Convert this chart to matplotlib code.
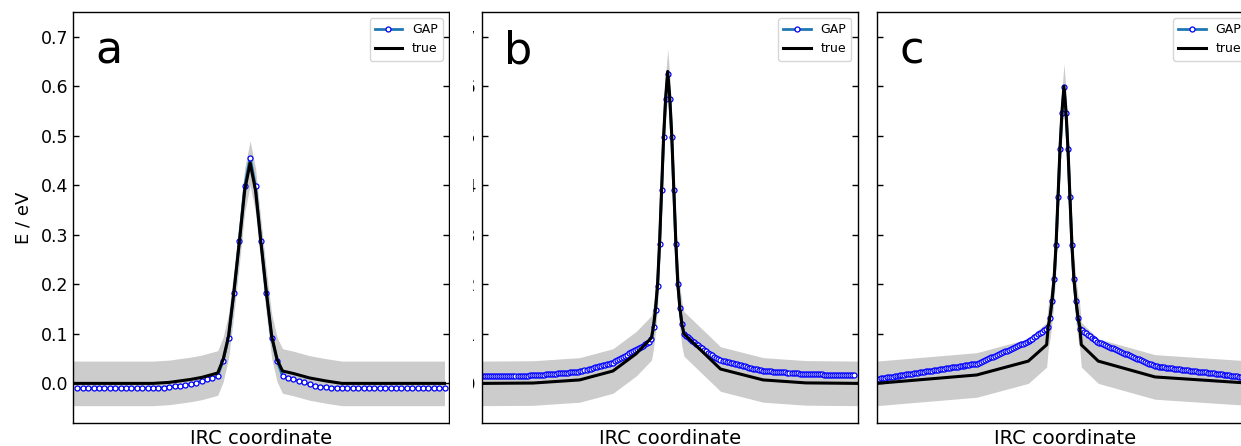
"""
Three-panel IRC energy profile: GAP prediction vs. reference ("true"),
with the shaded band showing the GAP error envelope around the reference.
"""

import numpy as np
import matplotlib
matplotlib.use("Agg")
import matplotlib.pyplot as plt
import matplotlib as mpl
from matplotlib.patches import Rectangle

# ---------------------------------------------------------------------------
# Style
# ---------------------------------------------------------------------------
mpl.rcParams.update({
    "font.family": "DejaVu Sans",
    "axes.linewidth": 1.0,
    "legend.fontsize": 9,
})

# ---------------------------------------------------------------------------
# Data (energies in eV, x = image index along the IRC)
# ---------------------------------------------------------------------------
BAND_HALF = 0.045   # half-width of grey envelope around the reference curve

GAP_A = [
    -0.010, -0.010, -0.010, -0.010, -0.010, -0.010, -0.010, -0.010, -0.010, -0.010,
    -0.010, -0.010, -0.010, -0.010, -0.0098, -0.0093, -0.0085, -0.0072, -0.0060, -0.0050,
    -0.0038, -0.0020, 0.0010, 0.0050, 0.0090, 0.0110, 0.0150, 0.046, 0.092, 0.183,
    0.287, 0.398, 0.456, 0.398, 0.287, 0.183, 0.092, 0.046, 0.0150, 0.0110,
    0.0090, 0.0050, 0.0020, -0.0020, -0.0050, -0.0065, -0.0075, -0.0085, -0.0090, -0.0095,
    -0.010, -0.010, -0.010, -0.010, -0.010, -0.010, -0.010, -0.010, -0.010, -0.010,
    -0.010, -0.010, -0.010, -0.010, -0.010, -0.010, -0.010, -0.010, -0.010,
]
TRUE_A_X = [-0.8, 14, 17, 19, 21, 23, 25, 26, 27, 28, 29, 30, 31, 32,
            33, 34, 35, 36, 37, 38, 40, 43, 46, 49, 68.0]
TRUE_A_Y = [0.0, 0.0, 0.002, 0.005, 0.008, 0.012, 0.018, 0.021, 0.048, 0.095,
            0.185, 0.285, 0.39, 0.445, 0.39, 0.285, 0.185, 0.095, 0.048, 0.025,
            0.02, 0.011, 0.005, 0.0, 0.0]

GAP_B = [
    0.0150, 0.0150, 0.0150, 0.0150, 0.0150, 0.0151, 0.0151, 0.0151, 0.0152, 0.0152,
    0.0152, 0.0153, 0.0153, 0.0154, 0.0154, 0.0155, 0.0155, 0.0156, 0.0156, 0.0157,
    0.0158, 0.0158, 0.0159, 0.0160, 0.0161, 0.0163, 0.0166, 0.0169, 0.0172, 0.0175,
    0.0178, 0.0181, 0.0184, 0.0187, 0.0191, 0.0194, 0.0197, 0.0200, 0.0204, 0.0207,
    0.0211, 0.0214, 0.0218, 0.0221, 0.0225, 0.0228, 0.0232, 0.0235, 0.0245, 0.0256,
    0.0267, 0.0278, 0.0289, 0.0300, 0.0311, 0.0322, 0.0333, 0.0344, 0.0355, 0.0366,
    0.0377, 0.0388, 0.0399, 0.0410, 0.0420, 0.0443, 0.0466, 0.0489, 0.0512, 0.0535,
    0.0558, 0.0581, 0.0604, 0.0627, 0.0650, 0.0673, 0.0696, 0.0719, 0.0742, 0.0765,
    0.0790, 0.0815, 0.0845, 0.0895, 0.113, 0.148, 0.197, 0.282, 0.390, 0.497,
    0.575, 0.625, 0.575, 0.497, 0.390, 0.282, 0.200, 0.152, 0.120, 0.099,
    0.096, 0.093, 0.089, 0.086, 0.083, 0.080, 0.077, 0.074, 0.071, 0.068,
    0.065, 0.062, 0.059, 0.057, 0.054, 0.052, 0.049, 0.047, 0.0460, 0.0450,
    0.0440, 0.0430, 0.0419, 0.0408, 0.0397, 0.0386, 0.0375, 0.0364, 0.0353, 0.0342,
    0.0331, 0.0320, 0.0310, 0.0300, 0.0290, 0.0281, 0.0272, 0.0264, 0.0257, 0.0253,
    0.0249, 0.0245, 0.0241, 0.0238, 0.0235, 0.0232, 0.0229, 0.0226, 0.0223, 0.0220,
    0.0217, 0.0214, 0.0211, 0.0208, 0.0205, 0.0202, 0.0199, 0.0196, 0.0193, 0.0190,
    0.0189, 0.0188, 0.0186, 0.0185, 0.0184, 0.0183, 0.0181, 0.0180, 0.0179, 0.0178,
    0.0177, 0.0176, 0.0175, 0.0174, 0.0173, 0.0172, 0.0171, 0.0170, 0.0169, 0.0168,
    0.0167, 0.0166, 0.0165, 0.0164,
]
TRUE_B_X = [-0.64, 24.6, 47.6, 64, 75.5, 83, 84, 85, 86, 87, 88, 89, 90, 91,
            92, 93, 94, 95, 96, 97, 98, 99, 117, 138, 159, 184.6]
TRUE_B_Y = [0.0, 0.0007, 0.007, 0.025, 0.06, 0.092, 0.115, 0.15, 0.2, 0.285,
            0.393, 0.5, 0.578, 0.63, 0.578, 0.5, 0.393, 0.285, 0.2, 0.152,
            0.12, 0.10, 0.029, 0.007, 0.001, 0.0]

GAP_C = [
    0.0095, 0.0101, 0.0107, 0.0113, 0.0119, 0.0126, 0.0132, 0.0138, 0.0144, 0.0150,
    0.0156, 0.0162, 0.0168, 0.0174, 0.0180, 0.0187, 0.0193, 0.0199, 0.0205, 0.0211,
    0.0217, 0.0223, 0.0229, 0.0235, 0.0241, 0.0248, 0.0254, 0.0260, 0.0266, 0.0272,
    0.0278, 0.0284, 0.0290, 0.0296, 0.0302, 0.0309, 0.0315, 0.0321, 0.0327, 0.0333,
    0.0339, 0.0345, 0.0351, 0.0357, 0.0363, 0.0370, 0.0376, 0.0382, 0.0388, 0.0394,
    0.0400, 0.0418, 0.0435, 0.0453, 0.0470, 0.0488, 0.0506, 0.0523, 0.0541, 0.0558,
    0.0576, 0.0594, 0.0611, 0.0629, 0.0646, 0.0664, 0.0682, 0.0699, 0.0717, 0.0734,
    0.0752, 0.0770, 0.0787, 0.0805, 0.0822, 0.0835, 0.0850, 0.0870, 0.0900, 0.0930,
    0.0960, 0.0990, 0.1020, 0.1040, 0.1070, 0.1100, 0.113, 0.133, 0.167, 0.210,
    0.279, 0.376, 0.473, 0.547, 0.598, 0.547, 0.473, 0.376, 0.279, 0.210,
    0.167, 0.133, 0.110, 0.1070, 0.1040, 0.1010, 0.0980, 0.0950, 0.0920, 0.0895,
    0.0868, 0.0840, 0.0823, 0.0806, 0.0789, 0.0772, 0.0755, 0.0738, 0.0721, 0.0705,
    0.0688, 0.0671, 0.0654, 0.0637, 0.0620, 0.0603, 0.0586, 0.0569, 0.0552, 0.0535,
    0.0519, 0.0502, 0.0485, 0.0468, 0.0451, 0.0434, 0.0417, 0.0400, 0.0384, 0.0367,
    0.0350, 0.0345, 0.0340, 0.0335, 0.0330, 0.0325, 0.0320, 0.0315, 0.0310, 0.0305,
    0.0300, 0.0295, 0.0290, 0.0285, 0.0280, 0.0275, 0.0270, 0.0265, 0.0260, 0.0255,
    0.0250, 0.0245, 0.0240, 0.0235, 0.0230, 0.0225, 0.0220, 0.0215, 0.0210, 0.0205,
    0.0200, 0.0195, 0.0190, 0.0185, 0.0180, 0.0175, 0.0170, 0.0165, 0.0160, 0.0155,
    0.0150, 0.0145, 0.0140, 0.0135, 0.0130, 0.0125, 0.0120, 0.0115, 0.0110,
]
TRUE_C_X = [-1.07, 49.7, 75.9, 85.2, 86, 87, 88, 89, 90, 91, 92, 93, 94,
            95, 96, 97, 98, 99, 100, 101, 102, 102.8, 111.4, 140.2, 189.8]
TRUE_C_Y = [0.0, 0.017, 0.045, 0.078, 0.115, 0.137, 0.17, 0.213, 0.282, 0.379,
            0.476, 0.55, 0.60, 0.55, 0.476, 0.379, 0.282, 0.213, 0.17, 0.137,
            0.115, 0.078, 0.045, 0.013, 0.0]

Y_TICKS = [0.0, 0.1, 0.2, 0.3, 0.4, 0.5, 0.6, 0.7]

# ---------------------------------------------------------------------------
# Layout (figure fractions; panel c runs past the right edge as in the source)
# ---------------------------------------------------------------------------
W, H = 1241, 446
PANELS = [
    # letter, gap, true x, true y, axes left px, xlim
    ("a", GAP_A, TRUE_A_X, TRUE_A_Y, 73.0, (-0.8, 68.83)),
    ("b", GAP_B, TRUE_B_X, TRUE_B_Y, 481.7, (-0.64, 184.6)),
    ("c", GAP_C, TRUE_C_X, TRUE_C_Y, 876.7, (-1.07, 189.8)),
]
AX_W, AX_TOP, AX_BOT = 376.0, 12.0, 423.0


def draw_panel(ax, letter, gap, tx, ty, xlim):
    ty = np.asarray(ty)
    ax.fill_between(tx, ty - BAND_HALF, ty + BAND_HALF, color="0.8", lw=0)
    ax.plot(np.arange(len(gap)), gap, color="#1f77b4", lw=2.0,
            marker="o", ms=3.6, mfc="white", mec="blue", mew=0.9, label="GAP")
    ax.plot(tx, ty, color="black", lw=2.2, label="true")

    ax.set_xlim(*xlim)
    ax.set_ylim(-0.08, 0.75)
    ax.set_xticks([])
    ax.set_yticks(Y_TICKS)
    ax.set_yticklabels([f"{v:.1f}" for v in Y_TICKS])
    ax.tick_params(axis="y", direction="in", left=True, right=True,
                   length=4, width=1.0, labelsize=12.5)
    ax.set_xlabel("IRC coordinate", fontsize=14)
    ax.text(0.06, 0.875, letter, transform=ax.transAxes, fontsize=32,
            va="baseline", ha="left")
    ax.legend(loc="upper right", handlelength=2.2)


def main():
    fig = plt.figure(figsize=(W / 100, H / 100), dpi=100)
    axes = []
    for z, (letter, gap, tx, ty, left, xlim) in zip((2, 1, 0), PANELS):
        ax = fig.add_axes([left / W, (H - AX_BOT) / H, AX_W / W,
                           (AX_BOT - AX_TOP) / H], zorder=z)
        draw_panel(ax, letter, gap, tx, ty, xlim)
        axes.append(ax)

    axes[0].set_ylabel("E / eV", fontsize=13, labelpad=6)
    axes[2].tick_params(axis="y", labelleft=False)

    # panel b's tick labels sit mostly under panel a's crop in the source
    fig.add_artist(Rectangle((450 / W, 0), 23 / W, 1, transform=fig.transFigure,
                             facecolor="white", edgecolor="none", zorder=5))

    fig.savefig("out.png", dpi=100)
    plt.close(fig)


if __name__ == "__main__":
    main()
